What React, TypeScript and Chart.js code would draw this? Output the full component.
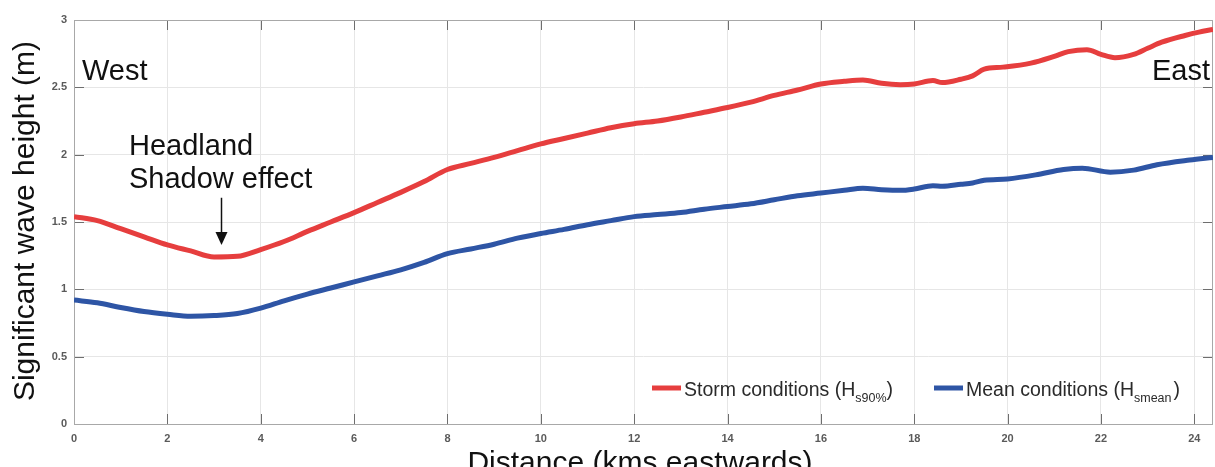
import React, { useEffect, useRef } from "react";
import { Chart, registerables } from "chart.js";

Chart.register(...registerables);

// ---- data ----
const stormKm = [0, 0.5, 1, 1.5, 2, 2.5, 3, 3.5, 4, 4.5, 5, 5.5, 6, 6.5, 7, 7.5, 8, 8.5, 9, 9.5, 10, 10.5, 11, 11.5, 12, 12.5, 13, 13.5, 14, 14.5, 15, 15.5, 16, 16.5, 16.9, 17.3, 17.7, 18, 18.4, 18.6, 19, 19.25, 19.5, 19.9, 20.5, 21, 21.3, 21.7, 22, 22.3, 22.7, 23, 23.3, 23.8, 24.1, 24.4];
const stormHs = [1.54, 1.51, 1.45, 1.39, 1.33, 1.285, 1.24, 1.245, 1.295, 1.355, 1.43, 1.5, 1.57, 1.645, 1.72, 1.8, 1.89, 1.935, 1.98, 2.03, 2.08, 2.12, 2.16, 2.2, 2.23, 2.25, 2.28, 2.315, 2.35, 2.39, 2.44, 2.48, 2.525, 2.545, 2.555, 2.53, 2.52, 2.525, 2.55, 2.535, 2.56, 2.585, 2.635, 2.65, 2.68, 2.73, 2.765, 2.78, 2.745, 2.72, 2.745, 2.79, 2.835, 2.885, 2.91, 2.93];

const meanKm = [0, 0.5, 1, 1.5, 2, 2.5, 3, 3.5, 4, 4.5, 5, 5.5, 6, 6.5, 7, 7.5, 8, 8.5, 9, 9.5, 10, 10.5, 11, 11.5, 12, 12.5, 13, 13.5, 14, 14.5, 15, 15.5, 16, 16.5, 16.9, 17.3, 17.7, 18, 18.4, 18.6, 19, 19.25, 19.5, 20, 20.6, 21.2, 21.6, 22.2, 22.7, 23.2, 23.9, 24.4];
const meanHs = [0.92, 0.9, 0.865, 0.835, 0.815, 0.8, 0.805, 0.82, 0.86, 0.915, 0.965, 1.01, 1.055, 1.1, 1.145, 1.2, 1.265, 1.3, 1.335, 1.38, 1.415, 1.445, 1.48, 1.51, 1.54, 1.555, 1.57, 1.595, 1.615, 1.635, 1.665, 1.695, 1.715, 1.735, 1.75, 1.74, 1.735, 1.745, 1.77, 1.765, 1.78, 1.79, 1.81, 1.82, 1.85, 1.89, 1.9, 1.87, 1.885, 1.925, 1.96, 1.98];

const xMin = 0;
const xMax = 24.4;
const xStep = 2;
const yMin = 0;
const yMax = 3;
const yStep = 0.5;

const seriesLabels = ["Storm conditions", "Mean conditions"];
const seriesSubs = ["s90%", "smean"];
const seriesColors = ["#e63e3e", "#2e55a5"];

const xTitle = "Distance (kms eastwards)";
const yTitle = "Significant wave height (m)";
const westLabel = "West";
const eastLabel = "East";
const noteLines = ["Headland", "Shadow effect"];
const arrowKm = 3.15;
const arrowFrom = 1.68;
const arrowTo = 1.33;

const FONT = '"Liberation Sans", Arial, Helvetica, sans-serif';

const decorPlugin = {
  id: "decor",
  beforeDatasetsDraw(chart: any) {
    const { ctx, chartArea } = chart;
    const xs = chart.scales.x;
    const ys = chart.scales.y;
    const { left, right, top, bottom } = chartArea;
    ctx.save();
    // inward ticks
    ctx.strokeStyle = "#6e6e6e";
    ctx.lineWidth = 1;
    ctx.beginPath();
    xs.ticks.forEach((t: any) => {
      const px = Math.round(xs.getPixelForValue(t.value)) + 0.5;
      ctx.moveTo(px, bottom);
      ctx.lineTo(px, bottom - 10);
      ctx.moveTo(px, top);
      ctx.lineTo(px, top + 10);
    });
    ys.ticks.forEach((t: any) => {
      const py = Math.round(ys.getPixelForValue(t.value)) + 0.5;
      ctx.moveTo(left, py);
      ctx.lineTo(left + 10, py);
      ctx.moveTo(right, py);
      ctx.lineTo(right - 10, py);
    });
    ctx.stroke();
    // box
    ctx.strokeStyle = "#a8a8a8";
    ctx.strokeRect(Math.round(left) + 0.5, Math.round(top) + 0.5, Math.round(right - left) - 1, Math.round(bottom - top));
    ctx.restore();
  },
  afterDraw(chart: any) {
    const { ctx } = chart;
    const xs = chart.scales.x;
    const ys = chart.scales.y;
    ctx.save();
    ctx.fillStyle = "#111111";
    ctx.textBaseline = "alphabetic";

    // axis titles
    ctx.font = `30px ${FONT}`;
    ctx.textAlign = "center";
    ctx.fillText(xTitle, 640, 472);
    ctx.save();
    ctx.translate(34, 221);
    ctx.rotate(-Math.PI / 2);
    ctx.fillText(yTitle, 0, 0);
    ctx.restore();

    // West / East
    ctx.font = `29px ${FONT}`;
    ctx.textAlign = "left";
    ctx.fillText(westLabel, 82, 80);
    ctx.textAlign = "right";
    ctx.fillText(eastLabel, 1210, 80);

    // Headland note
    ctx.textAlign = "left";
    ctx.fillText(noteLines[0], 129, 155);
    ctx.fillText(noteLines[1], 129, 188);

    // arrow
    const ax = Math.round(xs.getPixelForValue(arrowKm)) + 0.5;
    const ay0 = ys.getPixelForValue(arrowFrom);
    const ay1 = ys.getPixelForValue(arrowTo);
    ctx.strokeStyle = "#111111";
    ctx.lineWidth = 1.5;
    ctx.beginPath();
    ctx.moveTo(ax, ay0);
    ctx.lineTo(ax, ay1 - 12);
    ctx.stroke();
    ctx.beginPath();
    ctx.moveTo(ax - 6, ay1 - 13);
    ctx.lineTo(ax + 6, ay1 - 13);
    ctx.lineTo(ax, ay1);
    ctx.closePath();
    ctx.fill();

    // legend
    const legendY = 388;
    const items = [
      { x: 652, color: seriesColors[0], label: seriesLabels[0], sub: seriesSubs[0], gap: 0 },
      { x: 934, color: seriesColors[1], label: seriesLabels[1], sub: seriesSubs[1], gap: 2 },
    ];
    items.forEach((it) => {
      ctx.strokeStyle = it.color;
      ctx.lineWidth = 5;
      ctx.beginPath();
      ctx.moveTo(it.x, legendY);
      ctx.lineTo(it.x + 29, legendY);
      ctx.stroke();
      ctx.fillStyle = "#2a2a2a";
      ctx.textAlign = "left";
      ctx.font = `19.5px ${FONT}`;
      const main = it.label + " (H";
      let tx = it.x + 32;
      ctx.fillText(main, tx, 396);
      tx += ctx.measureText(main).width;
      ctx.font = `12.5px ${FONT}`;
      ctx.fillText(it.sub, tx, 402);
      tx += ctx.measureText(it.sub).width + it.gap;
      ctx.font = `19.5px ${FONT}`;
      ctx.fillText(")", tx, 396);
    });
    ctx.restore();
  },
};

export default function App() {
  const ref = useRef<HTMLCanvasElement | null>(null);

  useEffect(() => {
    if (!ref.current) return;
    const stormData = stormKm.map((x, i) => ({ x, y: stormHs[i] }));
    const meanData = meanKm.map((x, i) => ({ x, y: meanHs[i] }));
    const tickFont = { family: FONT, size: 11, weight: "bold" as const };
    const chart = new Chart(ref.current, {
      type: "line",
      data: {
        datasets: [
          {
            label: seriesLabels[0],
            data: stormData,
            borderColor: seriesColors[0],
            borderWidth: 5,
            pointRadius: 0,
            fill: false,
            cubicInterpolationMode: "monotone",
          },
          {
            label: seriesLabels[1],
            data: meanData,
            borderColor: seriesColors[1],
            borderWidth: 5,
            pointRadius: 0,
            fill: false,
            cubicInterpolationMode: "monotone",
          },
        ],
      },
      options: {
        responsive: false,
        animation: false,
        devicePixelRatio: 1,
        layout: { padding: { left: 0, right: 2, top: 20, bottom: 0 } },
        plugins: { legend: { display: false }, tooltip: { enabled: false }, title: { display: false } },
        scales: {
          x: {
            type: "linear",
            min: xMin,
            max: xMax,
            afterFit: (s: any) => { s.height = 43; },
            ticks: { stepSize: xStep, includeBounds: false, font: tickFont, color: "#5a5a5a", padding: 8, maxRotation: 0 },
            grid: { color: "#e6e6e6", drawTicks: false, lineWidth: 1 },
            border: { display: false },
          },
          y: {
            type: "linear",
            min: yMin,
            max: yMax,
            afterFit: (s: any) => { s.width = 74; },
            ticks: { stepSize: yStep, font: tickFont, color: "#5a5a5a", padding: 7, callback: (v: any) => String(v) },
            grid: { color: "#e6e6e6", drawTicks: false, lineWidth: 1 },
            border: { display: false },
          },
        },
      },
      plugins: [decorPlugin],
    });
    return () => chart.destroy();
  }, []);

  return (
    <div style={{ position: "fixed", left: 0, top: 0, width: 1215, height: 467, background: "#ffffff" }}>
      <canvas ref={ref} width={1215} height={467} style={{ display: "block" }} />
    </div>
  );
}
